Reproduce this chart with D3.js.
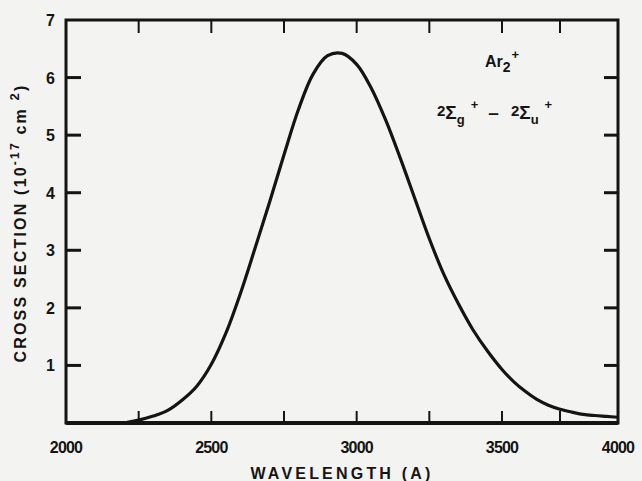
<!DOCTYPE html>
<meta charset="utf-8">
<script src="https://cdn.jsdelivr.net/npm/d3@7"></script>
<style>
    body { margin: 0; background: #f3f3f1; }
    svg { display: block; }
    text { font-family: "Liberation Sans", Arial, sans-serif; font-weight: bold; fill: #141414; }
</style>
<body>
<script>
    // curve (wavelength in A, cross section in 1e-17 cm^2)
    var wavelengths = [2200, 2250, 2300, 2350, 2400, 2450, 2500, 2550, 2600, 2650, 2700, 2750, 2800, 2850,
        2900, 2950, 3000, 3050, 3100, 3150, 3200, 3250, 3300, 3350, 3400, 3450, 3500, 3550, 3600, 3650,
        3700, 3750, 3800, 3850, 3900, 3950, 4000];
    var crossSection = [0.0, 0.05, 0.12, 0.22, 0.40, 0.64, 1.02, 1.56, 2.25, 3.03, 3.83, 4.66, 5.45, 6.06,
        6.38, 6.42, 6.23, 5.82, 5.26, 4.60, 3.90, 3.20, 2.58, 2.07, 1.62, 1.25, 0.93, 0.72, 0.55, 0.41,
        0.31, 0.24, 0.19, 0.15, 0.13, 0.115, 0.10];

    var xLabels = [2000, 2500, 3000, 3500, 4000];
    var xTicks = [2250, 2500, 2750, 3000, 3250, 3500, 3750];
    var yLabels = [1, 2, 3, 4, 5, 6, 7];
    var yTicks = [1, 2, 3, 4, 5, 6];

    var width = 642, height = 481;
    var margin = { left: 66, right: 618, top: 20, bottom: 423 };

    var svg = d3.select("body").append("svg")
        .attr("width", width)
        .attr("height", height);

    // the hand drawn axis is not quite even, 3500 sits further right than linear
    var x = d3.scaleLinear().domain([2000, 3500, 4000]).range([margin.left, 502, margin.right]);
    var y = d3.scaleLinear().domain([0, 7]).range([margin.bottom, margin.top]);

    var ink = "#141414";

    // ticks
    svg.append("g").selectAll("line")
        .data(yTicks).enter().append("line")
        .attr("x1", margin.left).attr("x2", margin.left + 15)
        .attr("y1", d => y(d)).attr("y2", d => y(d))
        .attr("stroke", ink).attr("stroke-width", 3);
    svg.append("g").selectAll("line")
        .data(yTicks).enter().append("line")
        .attr("x1", margin.right).attr("x2", margin.right - 14)
        .attr("y1", d => y(d)).attr("y2", d => y(d))
        .attr("stroke", ink).attr("stroke-width", 3);
    svg.append("g").selectAll("line")
        .data(xTicks).enter().append("line")
        .attr("x1", d => x(d)).attr("x2", d => x(d))
        .attr("y1", margin.bottom).attr("y2", margin.bottom - 12)
        .attr("stroke", ink).attr("stroke-width", 2);
    svg.append("g").selectAll("line")
        .data(xTicks).enter().append("line")
        .attr("x1", d => x(d)).attr("x2", d => x(d))
        .attr("y1", margin.top).attr("y2", margin.top + 13)
        .attr("stroke", ink).attr("stroke-width", 2);

    // frame
    svg.append("rect")
        .attr("x", margin.left).attr("y", margin.top)
        .attr("width", margin.right - margin.left).attr("height", margin.bottom - margin.top)
        .attr("fill", "none").attr("stroke", ink).attr("stroke-width", 3);
    svg.append("line")
        .attr("x1", margin.left).attr("x2", margin.right)
        .attr("y1", margin.bottom).attr("y2", margin.bottom)
        .attr("stroke", ink).attr("stroke-width", 4);

    // curve
    var line = d3.line()
        .x((d, i) => x(wavelengths[i]))
        .y(d => y(d))
        .curve(d3.curveCatmullRom.alpha(0.5));
    svg.append("path")
        .datum(crossSection)
        .attr("d", line)
        .attr("fill", "none")
        .attr("stroke", ink)
        .attr("stroke-width", 3.2);

    // tick labels
    svg.append("g").selectAll("text")
        .data(yLabels).enter().append("text")
        .attr("x", margin.left - 11).attr("y", d => y(d) + 6)
        .attr("text-anchor", "end")
        .style("font-size", "16px")
        .text(d => d);
    svg.append("g").selectAll("text")
        .data(xLabels).enter().append("text")
        .attr("x", d => x(d)).attr("y", 453)
        .attr("text-anchor", "middle")
        .style("font-size", "16px")
        .style("letter-spacing", "-0.8px")
        .text(d => d);

    // axis titles
    svg.append("text")
        .attr("x", 342).attr("y", 479)
        .attr("text-anchor", "middle")
        .style("font-size", "16px")
        .style("letter-spacing", "3.2px")
        .text("WAVELENGTH (A)");

    var yt = svg.append("text")
        .attr("transform", "translate(26,223) rotate(-90)")
        .attr("text-anchor", "middle")
        .style("font-size", "16px")
        .style("letter-spacing", "2.2px");
    yt.append("tspan").text("CROSS SECTION (10");
    yt.append("tspan").attr("dy", -7).style("font-size", "12px").text("-17");
    yt.append("tspan").attr("dy", 7).text(" cm ");
    yt.append("tspan").attr("dy", -7).style("font-size", "13px").text("2");
    yt.append("tspan").attr("dy", 7).text(")");

    // molecule label
    var ar = svg.append("text")
        .attr("x", 485).attr("y", 67)
        .style("font-size", "16px");
    ar.append("tspan").text("Ar");
    ar.append("tspan").attr("dy", 5).style("font-size", "14px").text("2");
    ar.append("tspan").attr("dy", -13).attr("dx", 1).style("font-size", "13px").text("+");

    var tr = svg.append("text")
        .attr("x", 437).attr("y", 119)
        .style("font-size", "19px");
    tr.append("tspan").attr("dy", -3).style("font-size", "15px").text("2");
    tr.append("tspan").attr("dy", 3).text("Σ");
    tr.append("tspan").attr("dy", 5).style("font-size", "13px").text("g");
    tr.append("tspan").attr("dy", -15).attr("dx", 6).style("font-size", "13px").text("+");
    tr.append("tspan").attr("dy", 10).attr("dx", 10).text("–");
    tr.append("tspan").attr("dy", -3).attr("dx", 12).style("font-size", "15px").text("2");
    tr.append("tspan").attr("dy", 3).text("Σ");
    tr.append("tspan").attr("dy", 5).style("font-size", "13px").text("u");
    tr.append("tspan").attr("dy", -15).attr("dx", 6).style("font-size", "13px").text("+");
</script>
</body>
